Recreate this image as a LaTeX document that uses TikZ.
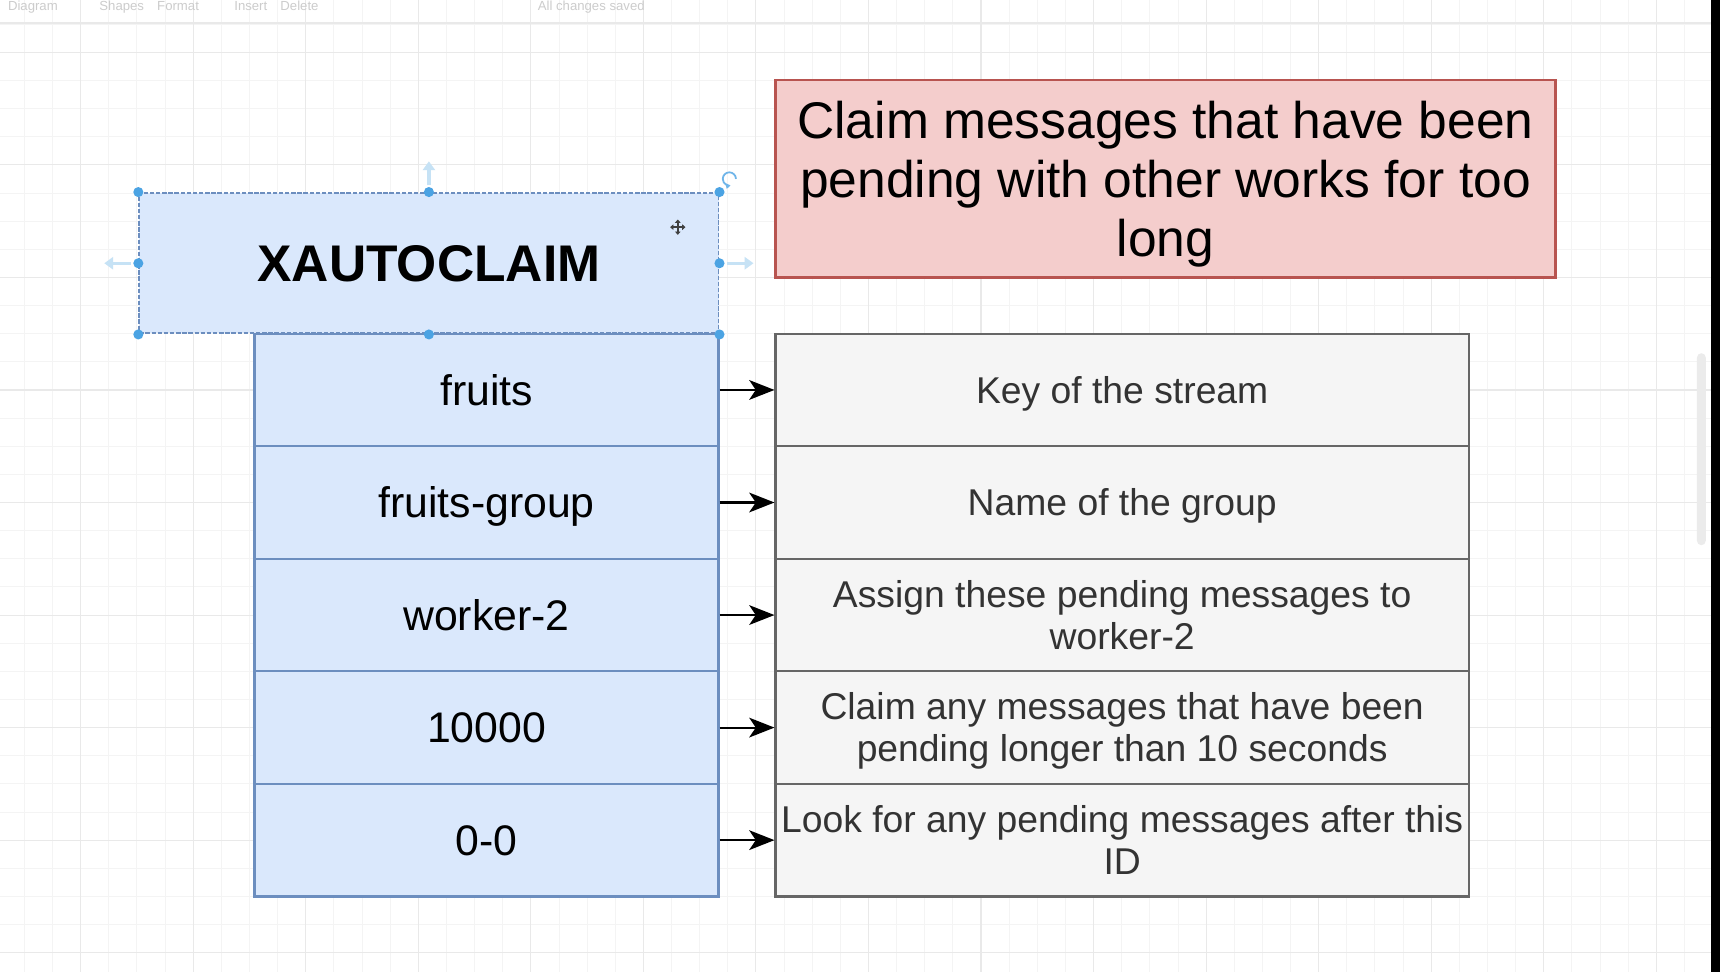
\documentclass[tikz,border=0pt]{standalone}
\usepackage{fontspec}
\setmainfont{Liberation Sans}
\usetikzlibrary{arrows.meta}
\definecolor{argfill}{HTML}{DAE8FC}
\definecolor{argline}{HTML}{6C8EBF}
\definecolor{descfill}{HTML}{F5F5F5}
\definecolor{descline}{HTML}{666666}
\definecolor{descink}{HTML}{333333}
\definecolor{notefill}{HTML}{F4CDCC}
\definecolor{noteline}{HTML}{B85450}
\definecolor{handleblue}{HTML}{4BA3E3}
\definecolor{hintblue}{HTML}{C6E2F5}
\definecolor{gridminor}{HTML}{F4F4F4}
\definecolor{gridmajor}{HTML}{E9E9E9}
\begin{document}
\begin{tikzpicture}[x=0.5pt,y=-0.5pt,
	argbox/.style={rectangle,draw=argline,fill=argfill,line width=1pt,minimum width=211.5pt,minimum height=51.3pt,inner sep=0pt,text height=14.3pt,text depth=0.5pt,font=\fontsize{19.5}{23}\selectfont},
	descbox/.style={rectangle,draw=descline,fill=descfill,line width=1pt,minimum width=316pt,minimum height=51.3pt,inner sep=0pt,align=center,text=descink,text height=12.6pt,text depth=0.5pt,font=\fontsize{17}{19.25}\selectfont},
	twolines/.style={text height=31.85pt},
	cmdbox/.style={rectangle,draw=argline,fill=argfill,line width=0.9pt,dash pattern=on 2pt off 0.8pt,minimum width=264pt,minimum height=64pt,inner sep=0pt,text height=17.4pt,text depth=0.5pt,font=\bfseries\fontsize{23.5}{27}\selectfont},
	notebox/.style={rectangle,draw=noteline,fill=notefill,line width=1pt,minimum width=355.5pt,minimum height=90pt,inner sep=0pt,align=center,text height=70.9pt,text depth=0.5pt,font=\fontsize{23.5}{26.75}\selectfont},
	toolbar/.style={anchor=base,text=black!20,font=\fontsize{6}{7}\selectfont},
	arr/.style={line width=1pt,-{Stealth[length=11.5pt,width=9pt,inset=3pt]}},
	handle/.style={fill=handleblue},
	hint/.style={hintblue,line width=1.5pt,-{Triangle[length=4pt,width=5.5pt]}}]
	\useasboundingbox (0,0) rectangle (1568,886);
	\fill[white] (0,0) rectangle (1568,886);
	\foreach \k in {-2,...,58} \draw[gridminor,line width=0.4pt] ({73.5+25.65*\k},0) -- ++(0,886);
	\foreach \k in {-1,...,34} \draw[gridminor,line width=0.4pt] (0,{47.7+25.65*\k}) -- ++(1568,0);
	\foreach \k in {0,...,14} \draw[gridmajor,line width=0.5pt] ({73.5+102.6*\k},0) -- ++(0,886);
	\foreach \k in {0,...,8} \draw[gridmajor,line width=0.5pt] (0,{47.7+102.6*\k}) -- ++(1568,0);
	\draw[gridmajor,line width=0.5pt] (0,21) -- (1568,21);
	\node[toolbar] (menu) at (30,10) {Diagram};
	\node[toolbar] (panels) at (136,10) {Shapes\quad Format};
	\node[toolbar] (edit) at (252,10) {Insert\quad Delete};
	\node[toolbar] (saved) at (539,10) {All changes saved};
	\fill[black!8,rounded corners=2pt] (1547,322) rectangle (1555,497);
	\fill[black] (1560,0) rectangle (1568,886);

	\node[notebox] (note) at (1062.5,163) {Claim messages that have been\\pending with other works for too\\long};

	\node[argbox] (key) at (443.5,355.5) {fruits};
	\node[argbox] (group) at (443.5,458.1) {fruits-group};
	\node[argbox] (consumer) at (443.5,560.7) {worker-2};
	\node[argbox] (idle) at (443.5,663.3) {10000};
	\node[argbox] (start) at (443.5,765.9) {0-0};

	\node[descbox] (keytxt) at (1023,355.5) {Key of the stream};
	\node[descbox] (grouptxt) at (1023,458.1) {Name of the group};
	\node[descbox,twolines] (consumertxt) at (1023,560.7) {Assign these pending messages to\\worker-2};
	\node[descbox,twolines] (idletxt) at (1023,663.3) {Claim any messages that have been\\pending longer than 10 seconds};
	\node[descbox,twolines] (starttxt) at (1023,765.9) {Look for any pending messages after this\\ID};

	\draw[arr] (key) -- (keytxt);
	\draw[arr] (group) -- (grouptxt);
	\draw[arr] (consumer) -- (consumertxt);
	\draw[arr] (idle) -- (idletxt);
	\draw[arr] (start) -- (starttxt);

	\node[cmdbox] (cmd) at (391,240) {XAUTOCLAIM};
	\foreach \a in {north west,north,north east,west,east,south west,south,south east}
		\fill[handle] (cmd.\a) circle (2.3pt);
	\draw[hint] ([yshift=3pt]cmd.north) -- ++(0,-22);
	\draw[hint] ([xshift=-3.5pt]cmd.west) -- ++(-24,0);
	\draw[hint] ([xshift=3.5pt]cmd.east) -- ++(24,0);
	\coordinate (turn) at ([shift={(4.5pt,6pt)}]cmd.north east);
	\draw[handleblue!80,line width=0.8pt,-{Triangle[length=2pt,width=2.5pt]}] ([xshift=3pt]turn) arc[start angle=0,end angle=280,radius=3pt];
	\coordinate (cursor) at ([shift={(-19pt,-16pt)}]cmd.north east);
	\draw[black!75,line width=0.7pt,{Triangle[length=1.5pt,width=2.5pt]}-{Triangle[length=1.5pt,width=2.5pt]}] ([xshift=-3.5pt]cursor) -- ([xshift=3.5pt]cursor);
	\draw[black!75,line width=0.7pt,{Triangle[length=1.5pt,width=2.5pt]}-{Triangle[length=1.5pt,width=2.5pt]}] ([yshift=-3.5pt]cursor) -- ([yshift=3.5pt]cursor);
\end{tikzpicture}
\end{document}
